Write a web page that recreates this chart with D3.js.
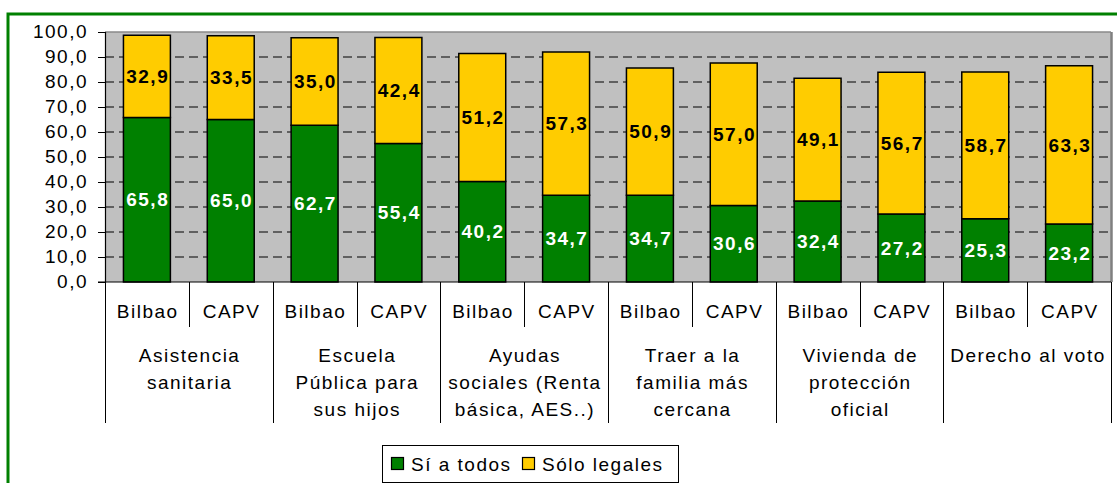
<!DOCTYPE html>
<html><head><meta charset="utf-8">
<script src="https://cdn.jsdelivr.net/npm/d3@7"></script>
<style>
html,body{margin:0;padding:0;background:#fff;}
svg{display:block;font-family:"Liberation Sans",Arial,sans-serif;}
</style></head>
<body>
<script>
const groups = [
  ["Asistencia","sanitaria"],
  ["Escuela","Pública para","sus hijos"],
  ["Ayudas","sociales (Renta","básica, AES..)"],
  ["Traer a la","familia más","cercana"],
  ["Vivienda de","protección","oficial"],
  ["Derecho al voto"]
];
const regions = ["Bilbao","CAPV"];
const siTodos =     [65.8, 65.0, 62.7, 55.4, 40.2, 34.7, 34.7, 30.6, 32.4, 27.2, 25.3, 23.2];
const soloLegales = [32.9, 33.5, 35.0, 42.4, 51.2, 57.3, 50.9, 57.0, 49.1, 56.7, 58.7, 63.3];
const yTicks = [0,10,20,30,40,50,60,70,80,90,100];
const seriesNames = ["Sí a todos","Sólo legales"];
const colors = ["#008000","#FFCC00"];

const W = 1117, H = 483;
const FS = 19, LS = "1.5px";
const svg = d3.select("body").append("svg").attr("width",W).attr("height",H);

// outer green frame
svg.append("rect").attr("x",8).attr("y",14).attr("width",W+20).attr("height",H+20)
  .attr("fill","#fff").attr("stroke","#008000").attr("stroke-width",3);

const L = 105, R = 1111, T = 32, B = 282;
const slots = d3.range(groups.length*regions.length);
const x = d3.scaleBand().domain(slots).range([L,R]).paddingInner(0.44).paddingOuter(0.22);
const step = (R-L)/slots.length;
const y = d3.scaleLinear().domain([0,100]).range([B,T]);

// plot background
svg.append("rect").attr("x",L).attr("y",T).attr("width",R-L).attr("height",B-T).attr("fill","#C0C0C0");
svg.append("line").attr("x1",L).attr("x2",R).attr("y1",T).attr("y2",T).attr("stroke","#8a8a8a").attr("stroke-width",1.5);
svg.append("line").attr("x1",R+0.5).attr("x2",R+0.5).attr("y1",T).attr("y2",B).attr("stroke","#808080").attr("stroke-width",2.5);

// gridlines
svg.append("g").selectAll("line").data(yTicks.filter(d=>d>0 && d<100)).join("line")
  .attr("x1",L).attr("x2",R).attr("y1",d=>y(d)).attr("y2",d=>y(d))
  .attr("stroke","#000").attr("stroke-width",1).attr("stroke-dasharray","9,5");

// y axis
const yAxis = d3.axisLeft(y).tickValues(yTicks).tickSize(7).tickPadding(10)
  .tickFormat(d=>d3.format(".1f")(d).replace(".",","));
const gy = svg.append("g").attr("transform",`translate(${L},0)`).call(yAxis);
gy.select(".domain").attr("stroke","#000").attr("stroke-width",1.2);
gy.selectAll(".tick line").attr("stroke","#000");
gy.selectAll(".tick text").attr("font-size",FS).attr("fill","#000").attr("dy","0.27em")
  .style("letter-spacing",LS).attr("font-family","Liberation Sans, Arial, sans-serif");

// bars
const stack = slots.map(i=>[
  {s:0,y0:0,y1:siTodos[i],v:siTodos[i]},
  {s:1,y0:siTodos[i],y1:siTodos[i]+soloLegales[i],v:soloLegales[i]}
]);
const gb = svg.append("g");
slots.forEach(i=>{
  stack[i].forEach(seg=>{
    gb.append("rect").attr("x",x(i)).attr("width",x.bandwidth())
      .attr("y",y(seg.y1)).attr("height",y(seg.y0)-y(seg.y1))
      .attr("fill",colors[seg.s]).attr("stroke","#000").attr("stroke-width",1.5);
  });
});
slots.forEach(i=>{
  stack[i].forEach(seg=>{
    gb.append("text").attr("x",x(i)+x.bandwidth()/2+0.8).attr("y",y((seg.y0+seg.y1)/2))
      .attr("dy","0.35em").attr("text-anchor","middle")
      .attr("font-size",FS).attr("font-weight","bold").style("letter-spacing",LS)
      .attr("fill",seg.s===0?"#fff":"#000").text(d3.format(".1f")(seg.v).replace(".",","));
  });
});

// x axis line
svg.append("line").attr("x1",L-7).attr("x2",R).attr("y1",B).attr("y2",B).attr("stroke","#000").attr("stroke-width",1.2);

// category separators
const sep = svg.append("g").attr("stroke","#000").attr("stroke-width",1);
d3.range(slots.length+1).forEach(k=>{
  const xx = Math.round(L + k*step)+0.5;
  const long = k % regions.length === 0;
  sep.append("line").attr("x1",xx).attr("x2",xx).attr("y1",B).attr("y2",long?423:327);
});

// region labels
slots.forEach(i=>{
  svg.append("text").attr("x",L+(i+0.5)*step+0.8).attr("y",318)
    .attr("text-anchor","middle").attr("font-size",FS).style("letter-spacing",LS)
    .attr("fill","#000").text(regions[i%regions.length]);
});

// group labels
groups.forEach((lines,g)=>{
  const cx = L + (g*regions.length + regions.length/2)*step + 0.8;
  const t = svg.append("text").attr("text-anchor","middle").attr("font-size",FS)
    .style("letter-spacing",LS).attr("fill","#000");
  lines.forEach((ln,j)=>{
    t.append("tspan").attr("x",cx).attr("y",362+j*27).text(ln);
  });
});

// legend
const lg = svg.append("g");
lg.append("rect").attr("x",382.5).attr("y",445.5).attr("width",296).attr("height",37)
  .attr("fill","#fff").attr("stroke","#000").attr("stroke-width",1);
const legX = [391,522];
seriesNames.forEach((n,i)=>{
  lg.append("rect").attr("x",legX[i]+0.5).attr("y",457.5).attr("width",12).attr("height",12)
    .attr("fill",colors[i]).attr("stroke","#000").attr("stroke-width",1.2);
  lg.append("text").attr("x",legX[i]+20).attr("y",470.5).attr("font-size",FS)
    .style("letter-spacing",LS).attr("fill","#000").text(n);
});
</script>
</body></html>
